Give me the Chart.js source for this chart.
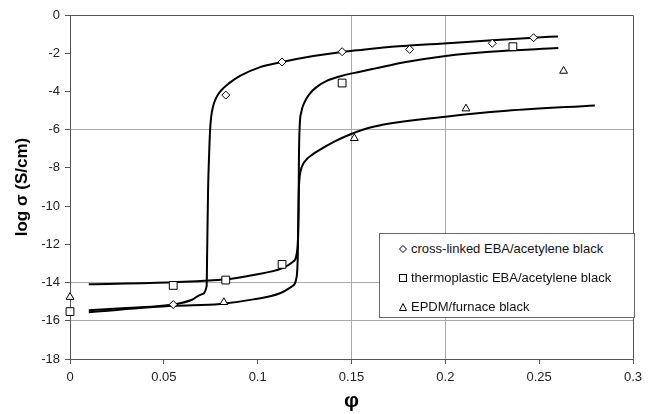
<!DOCTYPE html>
<html>
<head>
<meta charset="utf-8">
<script src="https://cdn.jsdelivr.net/npm/chart.js@4.4.1/dist/chart.umd.min.js"></script>
<style>
  html, body { margin: 0; padding: 0; background: #fff; }
  #wrap { position: relative; width: 653px; height: 414px; }
  #legendBox {
    position: absolute; left: 379px; top: 233px; width: 254px; height: 83px;
    border: 1px solid #666; background: #fff;
    font-family: Arial, "Liberation Sans", sans-serif; font-size: 13px; color: #111;
  }
  .item { position: absolute; left: 19px; height: 29px; line-height: 29px; white-space: nowrap; }
  .item svg { vertical-align: middle; margin-right: 4px; margin-top: -2px; }
</style>
</head>
<body>
<div id="wrap">
  <canvas id="myChart" width="653" height="414"></canvas>
  <div id="legendBox"></div>
</div>
<script>
// tick labels
const xTicks = [0, 0.05, 0.1, 0.15, 0.2, 0.25, 0.3];
const yTicks = [0, -2, -4, -6, -8, -10, -12, -14, -16, -18];
const xGridShown = [0.15, 0.2];
const yGridShown = [-6, -14, -16];

const seriesNames = [
  "cross-linked EBA/acetylene black",
  "thermoplastic EBA/acetylene black",
  "EPDM/furnace black",
];

// measured points
const crossPhi = [0.055, 0.083, 0.113, 0.145, 0.181, 0.225, 0.247];
const crossLog = [-15.15, -4.19, -2.46, -1.92, -1.80, -1.48, -1.19];

const thermoPhi = [0, 0.055, 0.083, 0.113, 0.145, 0.236];
const thermoLog = [-15.52, -14.15, -13.87, -13.05, -3.56, -1.66];

const epdmPhi = [0, 0.082, 0.1515, 0.211, 0.263];
const epdmLog = [-14.76, -15.03, -6.45, -4.90, -2.93];

// fitted curves
const crossFitPhi = [0.01, 0.03, 0.055, 0.065, 0.070, 0.0728, 0.0731, 0.0736, 0.0741, 0.0746, 0.0752, 0.0762, 0.0778, 0.0805, 0.0850, 0.0906, 0.101, 0.113, 0.1297, 0.145, 0.1545, 0.175, 0.197, 0.225, 0.247, 0.260];
const crossFitLog = [-15.45, -15.33, -15.15, -14.9, -14.62, -14.2, -12.3, -9.0, -7.4, -6.1, -5.35, -4.8, -4.35, -3.95, -3.55, -3.18, -2.74, -2.46, -2.15, -1.93, -1.83, -1.64, -1.50, -1.32, -1.19, -1.12];

const thermoFitPhi = [0.01, 0.055, 0.083, 0.0977, 0.113, 0.119, 0.1212, 0.1218, 0.122, 0.1224, 0.1232, 0.1248, 0.1275, 0.131, 0.1368, 0.145, 0.1545, 0.1616, 0.179, 0.2002, 0.2238, 0.2602];
const thermoFitLog = [-14.09, -13.98, -13.83, -13.6, -13.26, -12.9, -12.2, -10.0, -7.4, -5.8, -5.1, -4.6, -4.15, -3.8, -3.45, -3.18, -2.97, -2.82, -2.46, -2.14, -1.92, -1.73];

const epdmFitPhi = [0.01, 0.055, 0.0799, 0.0977, 0.1119, 0.1181, 0.1208, 0.1214, 0.1217, 0.1219, 0.1222, 0.1229, 0.1242, 0.1261, 0.1288, 0.1315, 0.1403, 0.1492, 0.1616, 0.2002, 0.2327, 0.2797];
const epdmFitLog = [-15.55, -15.22, -15.12, -14.88, -14.56, -14.21, -13.69, -12.5, -10.5, -9.3, -8.65, -8.15, -7.8, -7.55, -7.33, -7.15, -6.65, -6.25, -5.85, -5.32, -5.01, -4.73];

function toPoints(xs, ys) {
  return xs.map((x, i) => ({ x: x, y: ys[i] }));
}

function markerSet(label, xs, ys, style, radius) {
  return {
    label: label,
    data: toPoints(xs, ys),
    pointStyle: style,
    pointRadius: radius,
    pointHoverRadius: radius,
    pointBackgroundColor: "#fff",
    pointBorderColor: "#000",
    pointBorderWidth: 1,
    showLine: false,
    clip: false,
  };
}

function curveSet(xs, ys) {
  return {
    label: "",
    data: toPoints(xs, ys),
    showLine: true,
    borderColor: "#000",
    borderWidth: 2,
    pointRadius: 0,
    cubicInterpolationMode: "monotone",
    fill: false,
  };
}

// top and right frame of the plot area
const frameBox = {
  id: "frameBox",
  afterDraw(chart) {
    const a = chart.chartArea;
    const ctx = chart.ctx;
    ctx.save();
    ctx.strokeStyle = "#555";
    ctx.lineWidth = 1;
    ctx.beginPath();
    ctx.moveTo(a.left, a.top + 0.5);
    ctx.lineTo(a.right + 0.5, a.top + 0.5);
    ctx.lineTo(a.right + 0.5, a.bottom);
    ctx.stroke();
    ctx.restore();
  },
};

const font = "Arial, 'Liberation Sans', sans-serif";

const ctx = document.getElementById("myChart").getContext("2d");
new Chart(ctx, {
  type: "scatter",
  data: {
    datasets: [
      markerSet(seriesNames[0], crossPhi, crossLog, "rectRot", 4),
      markerSet(seriesNames[1], thermoPhi, thermoLog, "rect", 5.5),
      markerSet(seriesNames[2], epdmPhi, epdmLog, "triangle", 4.5),
      curveSet(crossFitPhi, crossFitLog),
      curveSet(thermoFitPhi, thermoFitLog),
      curveSet(epdmFitPhi, epdmFitLog),
    ],
  },
  options: {
    responsive: false,
    animation: false,
    layout: { padding: { top: 15, right: 20, left: 0, bottom: 0 } },
    plugins: { legend: { display: false }, tooltip: { enabled: false } },
    scales: {
      x: {
        type: "linear",
        min: 0,
        max: 0.3,
        afterBuildTicks: (scale) => { scale.ticks = xTicks.map((v) => ({ value: v })); },
        afterFit: (scale) => { scale.height = 55; },
        ticks: {
          color: "#222",
          font: { family: font, size: 13 },
          padding: 6,
          maxRotation: 0,
          callback: (v) => String(v),
        },
        grid: {
          color: (c) => (c.tick && xGridShown.includes(c.tick.value) ? "#aaa" : "rgba(0,0,0,0)"),
          tickColor: "#555",
          tickLength: 5,
        },
        border: { color: "#555" },
        title: {
          display: true,
          text: "φ",
          color: "#000",
          font: { family: font, size: 21, weight: "bold" },
          padding: { top: 0, bottom: 0 },
        },
      },
      y: {
        type: "linear",
        min: -18,
        max: 0,
        afterBuildTicks: (scale) => { scale.ticks = yTicks.map((v) => ({ value: v })); },
        afterFit: (scale) => { scale.width = 70; },
        ticks: {
          color: "#222",
          font: { family: font, size: 13 },
          padding: 5,
          callback: (v) => String(v),
        },
        grid: {
          color: (c) => (c.tick && yGridShown.includes(c.tick.value) ? "#aaa" : "rgba(0,0,0,0)"),
          tickColor: "#555",
          tickLength: 5,
        },
        border: { color: "#555" },
        title: {
          display: true,
          text: "log σ (S/cm)",
          color: "#000",
          font: { family: font, size: 17, weight: "bold" },
          padding: { top: 12, bottom: 0 },
        },
      },
    },
  },
  plugins: [frameBox],
});

// legend box inside the plot
const legendShapes = [
  '<svg width="8" height="8"><path d="M4 0.5 L7.5 4 L4 7.5 L0.5 4 Z" fill="#fff" stroke="#000"/></svg>',
  '<svg width="8" height="8"><rect x="0.5" y="0.5" width="7" height="7" fill="#fff" stroke="#000"/></svg>',
  '<svg width="8" height="8"><path d="M4 0.5 L7.5 7.5 L0.5 7.5 Z" fill="#fff" stroke="#000"/></svg>',
];
const legendBox = document.getElementById("legendBox");
seriesNames.forEach((name, i) => {
  const row = document.createElement("div");
  row.className = "item";
  row.style.top = i * 29 + "px";
  row.innerHTML = legendShapes[i] + "<span></span>";
  row.querySelector("span").textContent = name;
  legendBox.appendChild(row);
});
</script>
</body>
</html>
